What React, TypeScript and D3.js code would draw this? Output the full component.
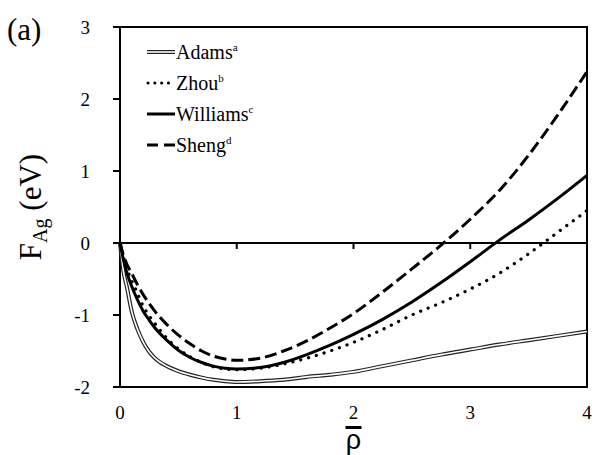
import { useEffect, useRef } from "react";
import * as d3 from "d3";

// embedding function F_Ag(rho)
const rho = [0, 0.03, 0.06, 0.1, 0.15, 0.2, 0.25, 0.3, 0.4, 0.5, 0.6, 0.7, 0.8, 0.9, 1.0, 1.2, 1.4, 1.6, 1.8, 2.0, 2.25, 2.5, 2.75, 3.0, 3.25, 3.5, 3.75, 4.0];
const adams = [0, -0.4, -0.62, -0.95, -1.2, -1.38, -1.51, -1.6, -1.71, -1.78, -1.83, -1.87, -1.9, -1.92, -1.93, -1.92, -1.9, -1.86, -1.83, -1.79, -1.71, -1.63, -1.55, -1.48, -1.41, -1.35, -1.29, -1.23];
const zhou = [0, -0.2, -0.36, -0.52, -0.7, -0.88, -1.01, -1.12, -1.32, -1.47, -1.58, -1.66, -1.72, -1.75, -1.76, -1.74, -1.68, -1.6, -1.5, -1.38, -1.2, -1.0, -0.83, -0.64, -0.42, -0.15, 0.15, 0.45];
const williams = [0, -0.24, -0.42, -0.6, -0.79, -0.95, -1.07, -1.18, -1.35, -1.49, -1.59, -1.66, -1.71, -1.74, -1.75, -1.73, -1.66, -1.55, -1.42, -1.27, -1.06, -0.82, -0.55, -0.26, 0.04, 0.32, 0.62, 0.94];
const sheng = [0, -0.17, -0.3, -0.42, -0.58, -0.72, -0.84, -0.95, -1.13, -1.28, -1.4, -1.5, -1.57, -1.61, -1.63, -1.6, -1.5, -1.36, -1.18, -0.98, -0.68, -0.36, -0.03, 0.33, 0.73, 1.22, 1.78, 2.38];

const legendNames = ["Adams", "Zhou", "Williams", "Sheng"];
const legendSups = ["a", "b", "c", "d"];
const xTicks = [0, 1, 2, 3, 4];
const yTicks = [-2, -1, 0, 1, 2, 3];

const serif = "'Liberation Serif', 'Times New Roman', serif";

export default function App() {
  const ref = useRef<SVGSVGElement>(null);

  useEffect(() => {
    document.body.style.margin = "0";
    const svg = d3.select(ref.current);
    svg.selectAll("*").remove();

    const x = d3.scaleLinear().domain([0, 4]).range([120, 587]);
    const y = d3.scaleLinear().domain([-2, 3]).range([387, 27]);

    const line = (vals: number[]) =>
      d3
        .line<number>()
        .x((_, i) => x(rho[i]))
        .y((d) => y(d))
        .curve(d3.curveMonotoneX)(vals);

    // frame
    svg
      .append("rect")
      .attr("x", x(0))
      .attr("y", y(3))
      .attr("width", x(4) - x(0))
      .attr("height", y(-2) - y(3))
      .attr("fill", "none")
      .attr("stroke", "#000")
      .attr("stroke-width", 2);

    // y ticks + labels
    svg
      .selectAll("line.yt")
      .data(yTicks)
      .join("line")
      .attr("x1", x(0) - 7)
      .attr("x2", x(0))
      .attr("y1", (d) => y(d))
      .attr("y2", (d) => y(d))
      .attr("stroke", "#000")
      .attr("stroke-width", 2);

    svg
      .selectAll("text.yl")
      .data(yTicks)
      .join("text")
      .attr("x", 90)
      .attr("y", (d) => y(d))
      .attr("dy", "0.35em")
      .attr("text-anchor", "end")
      .style("font-family", serif)
      .style("font-size", "19px")
      .text((d) => d);

    // zero line with ticks hanging below
    svg
      .append("line")
      .attr("x1", x(0) - 7)
      .attr("x2", x(4))
      .attr("y1", y(0))
      .attr("y2", y(0))
      .attr("stroke", "#000")
      .attr("stroke-width", 2);

    svg
      .selectAll("line.xt")
      .data(xTicks.slice(1, -1))
      .join("line")
      .attr("x1", (d) => x(d))
      .attr("x2", (d) => x(d))
      .attr("y1", y(0))
      .attr("y2", y(0) + 6)
      .attr("stroke", "#000")
      .attr("stroke-width", 2);

    svg
      .selectAll("text.xl")
      .data(xTicks)
      .join("text")
      .attr("x", (d) => x(d))
      .attr("y", 419)
      .attr("text-anchor", "middle")
      .style("font-family", serif)
      .style("font-size", "19px")
      .text((d) => d);

    // curves
    const g = svg.append("g");
    g.append("path").attr("d", line(adams)).attr("fill", "none").attr("stroke", "#222").attr("stroke-width", 4);
    g.append("path").attr("d", line(adams)).attr("fill", "none").attr("stroke", "#fff").attr("stroke-width", 1.6);
    g.append("path")
      .attr("d", line(zhou))
      .attr("fill", "none")
      .attr("stroke", "#000")
      .attr("stroke-width", 3.2)
      .attr("stroke-linecap", "round")
      .attr("stroke-dasharray", "0.1 8");
    g.append("path").attr("d", line(williams)).attr("fill", "none").attr("stroke", "#000").attr("stroke-width", 3);
    g.append("path")
      .attr("d", line(sheng))
      .attr("fill", "none")
      .attr("stroke", "#000")
      .attr("stroke-width", 3)
      .attr("stroke-dasharray", "12 5");

    // legend
    const leg = svg.append("g");
    legendNames.forEach((name, i) => {
      const ly = 52 + i * 31;
      const s = leg.append("g");
      if (i === 0) {
        s.append("line").attr("x1", 147).attr("x2", 175).attr("y1", ly).attr("y2", ly).attr("stroke", "#222").attr("stroke-width", 4);
        s.append("line").attr("x1", 147).attr("x2", 175).attr("y1", ly).attr("y2", ly).attr("stroke", "#fff").attr("stroke-width", 1.6);
      } else if (i === 1) {
        s.append("line")
          .attr("x1", 148).attr("x2", 172).attr("y1", ly).attr("y2", ly)
          .attr("stroke", "#000").attr("stroke-width", 3)
          .attr("stroke-linecap", "round").attr("stroke-dasharray", "0.1 6.7");
      } else if (i === 2) {
        s.append("line").attr("x1", 147).attr("x2", 175).attr("y1", ly).attr("y2", ly).attr("stroke", "#000").attr("stroke-width", 3);
      } else {
        s.append("line")
          .attr("x1", 147).attr("x2", 175).attr("y1", ly).attr("y2", ly)
          .attr("stroke", "#000").attr("stroke-width", 3).attr("stroke-dasharray", "11 6");
      }
      const t = leg
        .append("text")
        .attr("x", 176)
        .attr("y", ly + 7)
        .style("font-family", serif)
        .style("font-size", "20px");
      t.append("tspan").text(name);
      t.append("tspan").attr("dy", -8).style("font-size", "11px").text(legendSups[i]);
    });

    // panel label
    svg
      .append("text")
      .attr("x", 7)
      .attr("y", 40)
      .style("font-family", serif)
      .style("font-size", "31px")
      .text("(a)");

    // y axis title
    const yt = svg
      .append("text")
      .attr("transform", `translate(41,${y(0.5)}) rotate(-90)`)
      .attr("text-anchor", "middle")
      .style("font-family", serif)
      .style("font-size", "31px");
    yt.append("tspan").text("F");
    yt.append("tspan").attr("dy", 6).style("font-size", "20px").text("Ag");
    yt.append("tspan").attr("dy", -6).text(" (eV)");

    // x axis title: rho with an overbar
    svg
      .append("text")
      .attr("x", x(2))
      .attr("y", 449)
      .attr("text-anchor", "middle")
      .style("font-family", "'Liberation Sans', Arial, sans-serif")
      .style("font-size", "27px")
      .text("ρ");
    svg
      .append("rect")
      .attr("x", x(2) - 8)
      .attr("y", 426)
      .attr("width", 16)
      .attr("height", 3)
      .attr("fill", "#000");
  }, []);

  return <svg ref={ref} width={596} height={455} role="img" aria-label="Embedding function of Ag" />;
}
